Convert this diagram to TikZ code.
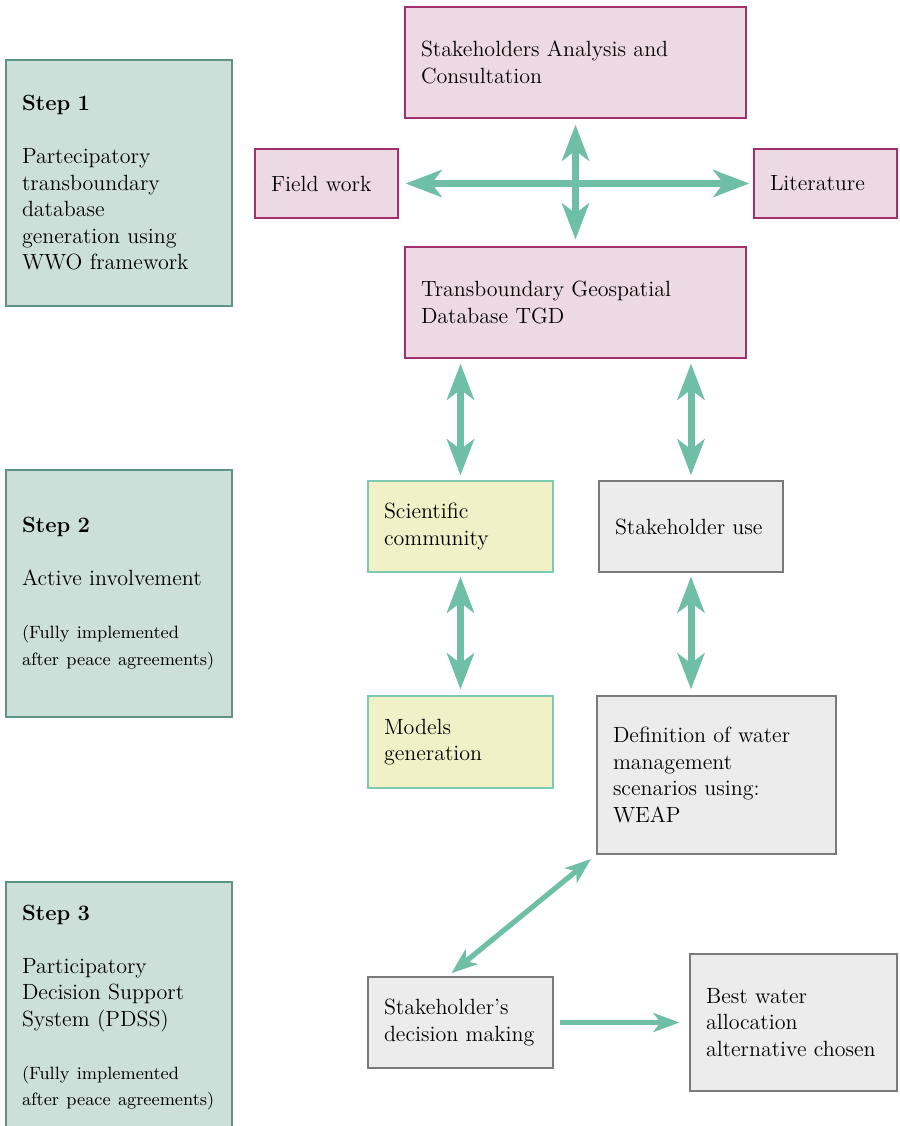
\documentclass[tikz,border=0pt]{standalone}
\usepackage{xcolor}
\usepackage{tikz}
\usetikzlibrary{calc,arrows.meta}
\definecolor{stepfill}{HTML}{CDDFD9}
\definecolor{stepline}{HTML}{5E9483}
\definecolor{pinkfill}{HTML}{EDD9E1}
\definecolor{pinkline}{HTML}{A3306E}
\definecolor{yelfill}{HTML}{F0F1C6}
\definecolor{yelline}{HTML}{7DCBB3}
\definecolor{greyfill}{HTML}{EBECEB}
\definecolor{greyline}{HTML}{7A7A7A}
\definecolor{flow}{HTML}{6FBFA6}
\newcommand{\notefont}{\fontsize{8.9}{13.25}\selectfont}

\begin{document}
\begin{tikzpicture}[
        x=0.5pt,y=-0.5pt,
        font=\fontsize{11}{13.25}\selectfont,
        bx/.style={rectangle,line width=0.6pt,inner xsep=8pt,inner ysep=0pt,align=left},
        stepbox/.style={bx,draw=stepline,fill=stepfill,minimum width=113pt,text width=97pt},
        pinkbox/.style={bx,draw=pinkline,fill=pinkfill},
        yelbox/.style={bx,draw=yelline,fill=yelfill},
        greybox/.style={bx,draw=greyline,fill=greyfill},
        both/.style={draw=flow,line width=3.5pt,
          {Stealth[length=18pt,width=13.5pt,inset=5pt]}-{Stealth[length=18pt,width=13.5pt,inset=5pt]}},
        thin both/.style={draw=flow,line width=2.6pt,
          {Stealth[length=13pt,width=9.5pt,inset=3.5pt]}-{Stealth[length=13pt,width=9.5pt,inset=3.5pt]}},
        one way/.style={draw=flow,line width=2.6pt,-{Stealth[length=13pt,width=9.5pt,inset=3.5pt]}}
      ]
      \useasboundingbox (0,0) rectangle (900,1126);

      % steps
      \node[stepbox,minimum height=123pt] (step1) at (119,183)
        {\textbf{Step 1}\\[13.25pt]Partecipatory\\transboundary\\database\\generation using\\WWO framework};
      \node[stepbox,minimum height=123.5pt] (step2) at (119,593.5)
        {\textbf{Step 2}\\[13.25pt]Active involvement\\[13.25pt]{\notefont(Fully implemented\\\mbox{after peace agreements)}}};
      \node[stepbox,minimum height=125.5pt] (step3) at (119,1007.5)
        {\textbf{Step 3}\\[13.25pt]Participatory\\Decision Support\\System (PDSS)\\[13.25pt]{\notefont(Fully implemented\\\mbox{after peace agreements)}}};

      % database
      \node[pinkbox,minimum width=170.5pt,minimum height=55.5pt,text width=154.5pt] (sac) at (575.5,62.5)
        {Stakeholders Analysis and\\Consultation};
      \node[pinkbox,minimum width=71.5pt,minimum height=34.5pt,text width=55.5pt] (field) at (326.5,183.5) {Field work};
      \node[pinkbox,minimum width=71.5pt,minimum height=34.5pt,text width=55.5pt] (lit) at (825.5,183.5) {Literature};
      \node[pinkbox,minimum width=170.5pt,minimum height=55.5pt,text width=154.5pt] (tgd) at (575.5,302.5)
        {Transboundary Geospatial\\Database TGD};

      % involvement
      \node[yelbox,minimum width=92.5pt,minimum height=45.5pt,text width=76.5pt] (sci) at (460.5,526.5) {Scientific\\community};
      \node[greybox,minimum width=92pt,minimum height=45.5pt,text width=76pt] (use) at (691,526.5) {Stakeholder use};
      \node[yelbox,minimum width=92.5pt,minimum height=46pt,text width=76.5pt] (models) at (460.5,742) {Models\\generation};
      \node[greybox,minimum width=119.5pt,minimum height=79pt,text width=103.5pt] (def) at (716.5,775)
        {Definition of water\\management\\scenarios using:\\WEAP};

      % decision
      \node[greybox,minimum width=92.5pt,minimum height=45.5pt,text width=76.5pt] (dec) at (460.5,1022.5) {Stakeholder’s\\decision making};
      \node[greybox,minimum width=103.5pt,minimum height=68.5pt,text width=87.5pt] (best) at (793.5,1022.5)
        {Best water\\allocation\\alternative chosen};

      % connectors
      \draw[both,shorten <=3.5pt,shorten >=2pt] (field.east) -- (lit.west);
      \draw[both,shorten <=3pt,shorten >=3.5pt] (sac.south) -- (tgd.north);
      \draw[both,shorten <=2.5pt,shorten >=2.5pt] (tgd.south -| sci.north) -- (sci.north);
      \draw[both,shorten <=2.5pt,shorten >=2.5pt] (tgd.south -| use.north) -- (use.north);
      \draw[both,shorten <=2pt,shorten >=3pt] (sci.south) -- (models.north);
      \draw[both,shorten <=2pt,shorten >=3pt] (use.south) -- (use.south |- def.north);
      \draw[thin both,shorten <=3.5pt,shorten >=2.5pt] (def.south west) -- ([xshift=-6.5pt]dec.north);
      \draw[one way,shorten <=3pt,shorten >=5pt] (dec.east) -- (best.west);
    \end{tikzpicture}
\end{document}
